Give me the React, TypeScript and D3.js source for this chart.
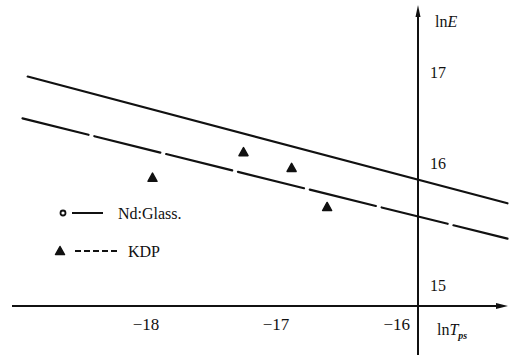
import React from 'react';
import * as d3 from 'd3';

// values (ln T on x, ln E on y)
const xTicks = [-18, -17, -16];
const yTicks = [15, 16, 17];
const glassLine = [
  { x: -18.91, y: 16.95 },
  { x: -15.37, y: 15.67 },
];
const kdpLine = [
  { x: -18.95, y: 16.49 },
  { x: -15.37, y: 15.38 },
];
const kdpPoints = [
  { x: -17.25, y: 16.12 },
  { x: -16.89, y: 15.96 },
  { x: -17.95, y: 15.88 },
  { x: -16.64, y: 15.64 },
];

const W = 513;
const H = 358;
const FONT = "'Liberation Serif', 'Times New Roman', 'DejaVu Serif', serif";

// the original is hand drawn, so the ticks are not evenly spaced
const xScale = d3.scaleLinear().domain([-18, -17, -16]).range([146, 276, 418]);
const yScale = d3.scaleLinear().domain([15, 16, 17]).range([285, 163, 72]);

const line = d3.line<{ x: number; y: number }>()
  .x(d => xScale(d.x))
  .y(d => yScale(d.y));

function Triangle({ cx, cy, s = 4.5 }: { cx: number; cy: number; s?: number }) {
  const p = `M${cx},${cy - s} L${cx + s},${cy + s * 0.8} L${cx - s},${cy + s * 0.8} Z`;
  return <path d={p} fill="#111" stroke="#111" strokeWidth={1.5} strokeLinejoin="round" />;
}

export default function App() {
  const axisX = xScale(-16);
  const axisY = 306;
  const txt = { fontFamily: FONT, fontSize: 16, fill: '#111' } as React.CSSProperties;
  return (
    <svg width={W} height={H} style={{ position: 'fixed', left: 0, top: 0, background: '#fff', fontFamily: FONT }}>
      {/* axes */}
      <line x1={12} x2={500} y1={axisY} y2={axisY} stroke="#111" strokeWidth={2} />
      <path d={`M508,${axisY} L496,${axisY - 3} L496,${axisY + 3} Z`} fill="#111" />
      <line x1={axisX} x2={axisX} y1={14} y2={355} stroke="#111" strokeWidth={2} />
      <path d={`M${axisX},5 L${axisX - 2.5},17 L${axisX + 2.5},17 Z`} fill="#111" />

      {/* y tick labels */}
      {yTicks.map(t => (
        <text key={t} x={axisX + 12} y={yScale(t)} dy="0.35em" style={txt}>
          {t}
        </text>
      ))}
      <text x={axisX + 17} y={27} style={txt}>
        ln<tspan fontStyle="italic">E</tspan>
      </text>

      {/* x tick labels */}
      {xTicks.map(t => (
        <text
          key={t}
          x={t === -16 ? xScale(t) - 8 : xScale(t)}
          y={axisY + 24}
          textAnchor={t === -16 ? 'end' : 'middle'}
          style={{ ...txt, fontSize: 17 }}
        >
          {'\u2212' + Math.abs(t)}
        </text>
      ))}
      <text x={axisX + 19} y={axisY + 29} style={txt}>
        ln<tspan fontStyle="italic">T</tspan>
        <tspan fontStyle="italic" fontWeight="bold" fontSize={10} dy={4}>ps</tspan>
      </text>

      {/* fitted lines */}
      <path d={line(glassLine) || ''} fill="none" stroke="#111" strokeWidth={2.2} strokeLinecap="round" />
      <path d={line(kdpLine) || ''} fill="none" stroke="#111" strokeWidth={2.2} strokeLinecap="round" strokeDasharray="68,6" />

      {/* KDP data */}
      {kdpPoints.map((d, i) => (
        <Triangle key={i} cx={xScale(d.x)} cy={yScale(d.y)} />
      ))}

      {/* legend */}
      <circle cx={63} cy={213} r={2.5} fill="#fff" stroke="#111" strokeWidth={1.8} />
      <line x1={72} x2={103} y1={213} y2={213} stroke="#111" strokeWidth={2} />
      <text x={118} y={213} dy="0.35em" style={txt}>Nd:Glass.</text>
      <Triangle cx={60} cy={251} s={4.5} />
      <line x1={75} x2={118} y1={251} y2={251} stroke="#111" strokeWidth={2} strokeDasharray="6,3" />
      <text x={128} y={251} dy="0.35em" style={txt}>KDP</text>
    </svg>
  );
}
